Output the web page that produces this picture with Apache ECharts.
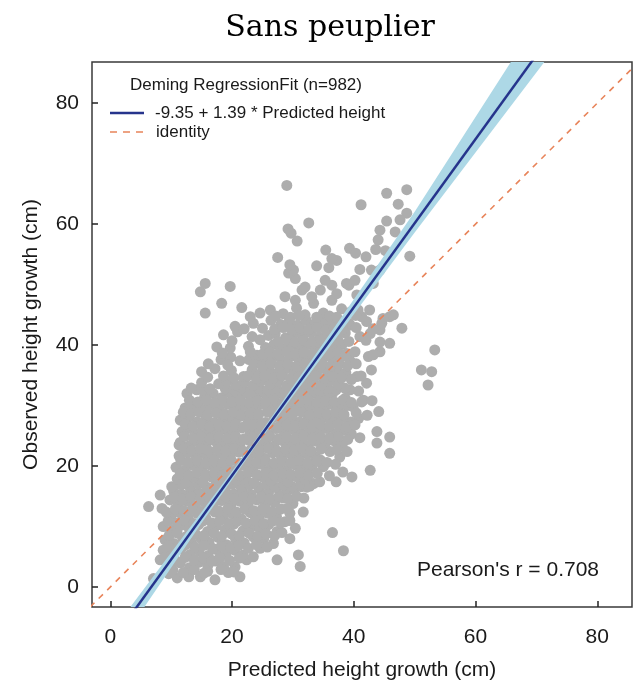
<!DOCTYPE html>
<html>
<head>
<meta charset="utf-8">
<script src="https://cdn.jsdelivr.net/npm/echarts@6/dist/echarts.min.js"></script>
<style>html,body{margin:0;padding:0;background:#fff;}#chart{width:641px;height:689px;}</style>
</head>
<body>
<div id="chart"></div>
<script>
// ---- data ----
const titleText = 'Sans peuplier';
const xTicks = [0, 20, 40, 60, 80];
const yTicks = [0, 20, 40, 60, 80];
const fitIntercept = -9.35;
const fitSlope = 1.39;
const pearsonR = 0.708;
const nObs = 982;

// confidence band edges (x, y)
const bandUpperX = [3.3, 15, 24, 35, 50, 65.8];
const bandUpperY = [-3.3, 12.4, 24.5, 40.3, 62.05, 86.8];
const bandLowerX = [5.6, 15, 24, 35, 50, 71.3];
const bandLowerY = [-3.3, 10.6, 23.5, 38.3, 58.6, 86.8];

// scatter points: predicted (x), observed (y)
const pointsLow = [
 [9.6,2.2],[11.0,1.5],[12.9,1.7],[14.8,1.7],[16.0,2.6],[17.2,1.2],[19.4,2.4],[21.3,1.7],[7.1,1.4],
 [8.2,4.5],[9.9,3.4],[11.5,4.0],[13.0,3.2],[14.5,4.1],[16.0,3.5],[17.3,4.3],[18.6,3.4],[20.5,3.3],[22.4,4.5],[27.4,4.5],[31.2,3.4],
 [8.7,6.1],[10.2,5.6],[11.6,6.3],[13.1,5.4],[14.6,6.0],[16.1,5.2],[17.5,6.2],[19.0,5.5],[20.4,6.1],[21.8,5.3],[23.5,5.0],[24.6,6.4],[30.9,5.3],
 [9.0,7.8],[10.4,7.2],[11.9,8.0],[13.3,7.3],[14.8,8.1],[16.2,7.4],[17.7,8.2],[19.1,7.0],[20.6,7.9],[22.0,7.3],[23.5,8.3],[25.2,8.0],[26.8,7.2],[29.5,8.0],[38.3,6.0],
 [8.7,10.0],[10.2,9.4],[11.6,10.2],[13.0,9.6],[14.5,10.3],[16.0,9.2],[17.4,10.1],[18.9,9.5],[20.3,10.4],[21.8,9.3],[23.2,10.0],[24.6,9.6],[26.0,10.3],[27.4,9.2],[28.7,10.8],[30.4,9.7],[36.5,9.0],
 [10.0,11.8],[11.4,12.3],[12.8,11.5],[14.3,12.2],[15.7,11.4],[17.2,12.4],[18.6,11.6],[20.1,12.1],[21.5,11.3],[23.0,12.3],[24.4,11.5],[25.9,12.2],[27.3,11.7],[29.5,12.2],[31.7,12.4],
 [6.3,13.3],[8.5,13.0],[9.8,14.4],[11.2,13.6],[12.6,14.2],[14.0,13.4],[15.5,14.1],[16.9,13.3],[18.3,14.3],[19.8,13.6],[21.2,14.2],[22.6,13.5],[24.1,14.4],[25.5,13.7],[27.0,14.0],[28.4,14.7],[30.0,13.8],
 [8.2,15.2],[10.4,15.9],[11.8,15.3],[13.2,16.1],[14.6,15.5],[16.0,16.3],[17.5,15.6],[18.9,16.2],[20.3,15.4],[21.7,16.0],[23.1,15.3],[24.5,16.2],[26.0,15.6],[27.4,16.4],[28.8,15.5],[30.2,16.1],[31.4,16.6],[32.3,16.5],[33.4,17.1]
];
const pointsLowFill = [
 [10.3,2.8],[12.0,2.4],[13.8,2.9],[15.4,2.3],[18.2,2.9],[20.3,2.5],
 [9.0,4.9],[10.7,4.4],[12.3,4.9],[13.8,4.5],[15.3,4.8],[16.7,4.3],[18.0,4.9],[19.6,4.4],[21.2,4.8],
 [9.5,6.8],[11.0,6.5],[12.4,7.0],[13.9,6.6],[15.4,6.9],[16.8,6.4],[18.3,6.9],[19.8,6.5],[21.1,6.9],[22.7,6.4],[24.0,7.0],[25.8,6.6],
 [9.7,8.6],[11.0,8.9],[12.6,8.4],[14.0,8.8],[15.4,8.5],[17.0,8.9],[18.3,8.4],[19.9,8.8],[21.2,8.5],[22.8,8.9],[24.2,8.4],[25.6,8.8],[27.0,8.5],[28.2,9.0],
 [9.5,10.9],[11.0,10.6],[12.3,11.0],[13.7,10.5],[15.2,10.9],[16.7,10.6],[18.0,11.0],[19.5,10.5],[20.9,10.9],[22.3,10.6],[23.8,11.0],[25.2,10.5],[26.7,10.9],[28.0,10.6],[29.5,11.0],
 [9.2,12.4],[10.7,12.9],[12.1,12.6],[13.5,12.9],[15.0,12.5],[16.4,12.9],[17.8,12.6],[19.3,12.9],[20.7,12.4],[22.1,12.9],[23.6,12.6],[25.0,12.9],[26.5,12.5],[28.0,12.9],[29.0,13.0],
 [10.5,14.9],[11.9,14.5],[13.3,14.9],[14.8,14.6],[16.2,15.0],[17.6,14.5],[19.0,14.9],[20.5,14.6],[21.9,15.0],[23.3,14.5],[24.8,14.9],[26.2,14.6],[27.7,15.0],[29.2,14.6],[30.6,15.0],[31.8,14.7],
 [11.7,16.9],[13.1,16.6],[14.5,17.0],[15.9,16.5],[17.3,16.9],[18.7,16.6],[20.1,17.0],[21.5,16.5],[22.9,16.9],[24.3,16.6],[25.7,17.0],[27.1,16.5],[28.5,16.9],[29.9,16.6],[31.3,17.0],[32.8,16.7],[34.4,17.4]
];
const pointsMid = [
 [10.1,16.6],[11.0,17.9],[12.4,17.3],[13.8,18.1],[15.2,17.4],[16.6,18.2],[18.0,17.5],[19.4,18.3],[20.8,17.6],[22.2,18.0],[23.6,17.3],[25.0,18.2],[26.4,17.5],[27.8,18.1],[29.2,17.4],[30.6,18.2],[32.0,17.8],[37.1,17.4],[39.7,18.2],
 [10.8,19.8],[12.2,19.3],[13.6,20.1],[15.0,19.5],[16.4,20.2],[17.8,19.4],[19.2,20.0],[20.6,19.3],[22.0,20.1],[23.4,19.6],[24.8,20.3],[26.2,19.4],[27.6,20.0],[29.0,19.3],[30.4,20.2],[31.8,19.6],[33.2,20.0],[35.0,19.9],[42.7,19.3],
 [11.3,21.7],[12.7,22.2],[14.1,21.4],[15.5,22.0],[16.9,21.3],[18.3,22.1],[19.7,21.6],[21.1,22.3],[22.5,21.5],[23.9,22.0],[25.3,21.3],[26.7,22.2],[28.1,21.6],[29.5,22.1],[30.9,21.4],[32.3,22.0],[33.7,21.5],[34.5,21.0],[36.1,22.4],[37.7,21.5],
 [11.5,23.9],[12.9,23.3],[14.3,24.1],[15.7,23.5],[17.1,24.2],[18.5,23.4],[19.9,24.0],[21.3,23.6],[22.7,24.3],[24.1,23.5],[25.5,24.0],[26.9,23.3],[28.3,24.2],[29.7,23.6],[31.1,24.0],[32.5,23.4],[33.9,24.1],[35.3,23.6],[36.7,24.2],[38.1,23.5],[43.8,23.8],[45.9,22.1],
 [11.8,25.7],[13.2,26.2],[14.6,25.4],[16.0,26.0],[17.4,25.3],[18.8,26.1],[20.2,25.6],[21.6,26.3],[23.0,25.5],[24.4,26.0],[25.8,25.3],[27.2,26.2],[28.6,25.6],[30.0,26.1],[31.4,25.4],[32.8,26.0],[34.2,25.5],[35.6,26.2],[37.0,25.4],[38.4,26.0],[39.6,25.3],[43.8,25.7],[45.9,24.8],
 [11.5,27.6],[12.9,28.1],[14.3,27.3],[15.7,27.9],[17.1,27.2],[18.5,28.0],[19.9,27.5],[21.3,28.2],[22.7,27.4],[24.1,27.9],[25.5,27.2],[26.9,28.1],[28.3,27.5],[29.7,28.0],[31.1,27.3],[32.5,27.9],[33.9,27.4],[35.3,28.1],[36.7,27.6],[38.1,28.0],[39.5,27.3],[40.8,27.9],
 [12.3,29.6],[13.7,30.1],[15.1,29.4],[16.5,30.0],[17.9,29.3],[19.3,30.2],[20.7,29.5],[22.1,30.0],[23.5,29.4],[24.9,30.2],[26.3,29.6],[27.7,30.0],[29.1,29.3],[30.5,30.1],[31.9,29.5],[33.3,30.0],[34.7,29.4],[36.1,30.2],[37.5,29.6],[38.9,30.0],[39.9,29.8],[41.6,30.9],[44.1,29.0],
 [12.6,32.0],[14.2,32.6],[15.5,31.4],[16.9,32.0],[18.3,31.3],[19.7,32.1],[21.1,31.5],[22.5,32.0],[23.9,31.3],[25.3,32.1],[26.7,31.6],[28.1,32.0],[29.5,31.4],[30.9,32.1],[32.3,31.5],[33.7,32.0],[35.1,31.3],[36.5,32.0],[38.6,31.2],[39.4,32.6],[41.3,30.6],[11.3,23.5]
];
const pointsMidFill = [
 [11.5,18.7],[12.9,18.5],[14.3,18.9],[15.7,18.6],[17.1,18.9],[18.5,18.5],[19.9,18.8],[21.3,18.5],[22.7,18.9],[24.1,18.6],[25.5,18.9],[26.9,18.5],[28.3,18.8],[29.7,18.6],[31.1,18.9],[32.6,18.5],[34.0,18.8],[36.0,18.4],[38.2,19.0],
 [11.6,20.9],[12.9,20.6],[14.3,20.9],[15.7,20.5],[17.1,20.8],[18.5,20.6],[19.9,20.9],[21.3,20.5],[22.7,20.8],[24.1,20.6],[25.5,20.9],[26.9,20.5],[28.3,20.8],[29.7,20.6],[31.1,20.9],[32.5,20.5],[34.0,20.8],[35.6,20.6],[37.0,20.3],
 [12.1,22.9],[13.4,22.6],[14.8,22.9],[16.2,22.5],[17.6,22.8],[19.0,22.6],[20.4,22.9],[21.8,22.5],[23.2,22.8],[24.6,22.6],[26.0,22.9],[27.4,22.5],[28.8,22.8],[30.2,22.6],[31.6,22.9],[33.0,22.5],[34.6,22.8],[37.2,22.7],[38.9,22.4],
 [12.2,24.9],[13.6,24.6],[15.0,24.9],[16.4,24.5],[17.8,24.8],[19.2,24.6],[20.6,24.9],[22.0,24.5],[23.4,24.8],[24.8,24.6],[26.2,24.9],[27.6,24.5],[29.0,24.8],[30.4,24.6],[31.8,24.9],[33.2,24.5],[34.6,24.8],[36.0,24.6],[37.5,24.9],[39.0,24.4],[41.0,24.7],
 [12.3,26.9],[13.6,26.6],[15.0,26.9],[16.4,26.5],[17.8,26.8],[19.2,26.6],[20.6,26.9],[22.0,26.5],[23.4,26.8],[24.8,26.6],[26.2,26.9],[27.6,26.5],[29.0,26.8],[30.4,26.6],[31.8,26.9],[33.2,26.5],[34.6,26.8],[36.0,26.6],[37.4,26.9],[38.8,26.5],[40.2,26.8],
 [12.0,28.9],[13.2,28.6],[14.6,28.9],[16.0,28.5],[17.4,28.8],[18.8,28.6],[20.2,28.9],[21.6,28.5],[23.0,28.8],[24.4,28.6],[25.8,28.9],[27.2,28.5],[28.6,28.8],[30.0,28.6],[31.4,28.9],[32.8,28.5],[34.2,28.8],[35.6,28.6],[37.0,28.9],[38.4,28.5],[40.4,28.8],[42.2,28.4],
 [13.0,30.9],[14.4,30.6],[15.8,30.9],[17.2,30.5],[18.6,30.8],[20.0,30.6],[21.4,30.9],[22.8,30.5],[24.2,30.8],[25.6,30.6],[27.0,30.9],[28.4,30.5],[29.8,30.8],[31.2,30.6],[32.6,30.9],[34.0,30.5],[35.4,30.8],[36.8,30.6],[38.2,30.9],[39.6,30.5],[43.0,30.8],
 [13.3,32.9],[15.1,32.6],[18.9,32.8],[20.3,32.6],[21.7,32.9],[23.1,32.5],[24.5,32.8],[25.9,32.6],[27.3,32.9],[28.7,32.5],[30.1,32.8],[31.5,32.6],[32.9,32.9],[34.3,32.5],[35.7,32.8],[37.1,32.6],[38.5,32.9],[40.8,32.4]
];
const pointsHigh = [
 [15.0,33.8],[16.4,32.8],[17.8,33.6],[19.2,34.0],[20.6,33.4],[22.0,33.9],[23.4,33.3],[24.8,34.1],[26.2,33.5],[27.6,34.0],[29.0,33.3],[30.4,34.1],[31.8,33.6],[33.2,34.0],[34.6,33.4],[36.0,34.0],[37.4,33.5],[40.5,34.8],[42.1,33.7],[52.2,33.4],
 [15.0,35.6],[17.2,36.1],[18.6,34.9],[19.9,35.8],[21.9,34.8],[23.3,35.9],[24.7,35.3],[26.1,36.0],[27.5,35.4],[28.9,36.1],[30.3,35.5],[31.7,36.0],[33.1,35.3],[34.5,36.1],[35.9,35.6],[37.3,36.0],[38.7,35.4],[42.9,35.9],[51.1,35.9],[52.8,35.6],
 [18.2,37.6],[19.8,38.0],[21.3,37.4],[22.8,37.6],[24.0,37.9],[25.4,37.3],[26.8,38.0],[28.2,37.4],[29.6,38.1],[31.0,37.5],[32.4,38.0],[33.8,37.3],[35.2,38.0],[36.6,37.5],[38.0,38.1],[39.4,37.4],[42.4,38.1],
 [17.5,39.7],[19.7,39.5],[22.7,39.8],[24.1,38.3],[25.5,39.6],[26.9,40.1],[28.3,39.4],[29.7,40.0],[31.1,39.3],[32.5,40.1],[33.9,39.5],[35.3,40.0],[36.7,39.4],[38.1,40.1],[44.3,38.9],[44.3,40.5],[45.9,40.3],[53.3,39.2],
 [18.6,41.7],[20.9,42.2],[23.3,41.4],[26.0,41.6],[27.1,41.9],[28.8,41.2],[30.2,42.0],[31.6,41.4],[33.0,42.1],[34.4,41.3],[35.8,41.9],[37.2,41.4],[38.6,42.0],[41.0,41.4],[42.7,41.9],[44.3,42.5],[47.9,42.8],
 [20.5,43.1],[23.5,43.6],[26.4,44.1],[28.0,43.4],[29.4,44.0],[30.8,43.3],[32.2,44.1],[33.6,43.5],[35.0,44.0],[36.4,43.3],[37.8,44.0],[39.2,43.6],[39.4,43.3],[42.1,43.9],[41.3,44.7],[44.6,43.6],[45.9,44.7],
 [15.6,45.3],[18.3,46.9],[21.6,46.2],[24.6,45.3],[26.3,45.8],[28.4,45.2],[30.6,46.1],[32.0,45.0],[33.4,46.9],[35.0,45.3],[36.4,47.4],[38.0,46.0],[39.5,45.5],[40.7,45.8],[42.6,45.8],[46.5,45.0],[44.8,44.4],
 [28.7,48.0],[30.4,47.4],[33.1,48.0],[34.5,49.1],[37.2,48.5],[40.5,48.3],[36.4,49.9],[39.2,49.9],[31.5,49.1],
 [14.8,48.8],[15.6,50.2],[19.7,49.7],[32.0,49.6],[35.3,50.7],[38.8,50.2],[40.2,50.7],[43.2,50.2],[30.4,51.0],
 [29.3,51.9],[30.1,52.4],[29.5,53.3],[33.9,53.1],[35.9,52.8],[37.2,54.0],[36.4,54.3],[35.4,55.7],[27.5,54.5],[41.0,52.5],[42.0,54.6],[42.9,52.4],[44.3,52.4],[43.6,55.8],[45.2,55.6],[39.3,56.0],[40.3,55.2],[49.2,54.7],[44.0,57.4],
 [29.0,66.4],[32.6,60.2],[29.2,59.2],[29.7,58.5],[30.7,57.2],[41.2,63.2],[45.4,65.1],[48.7,65.7],[47.3,63.3],[48.7,61.8],[45.4,60.5],[47.6,60.7],[44.3,59.0],[46.8,58.7]
];
const pointsHighFill = [
 [16.0,34.7],[20.3,34.6],[22.6,34.9],[24.0,34.5],[25.4,34.8],[26.8,34.6],[28.2,34.9],[29.6,34.5],[31.0,34.8],[32.4,34.6],[33.8,34.9],[35.2,34.5],[36.6,34.8],[38.0,34.6],[39.6,34.3],[41.2,34.9],
 [16.1,36.9],[19.3,36.7],[23.6,36.8],[25.0,36.5],[26.4,36.9],[27.8,36.6],[29.2,36.8],[30.6,36.5],[32.0,36.9],[33.4,36.6],[34.8,36.8],[36.2,36.5],[37.6,36.9],[39.0,36.6],[40.4,36.9],
 [18.4,38.7],[23.0,38.9],[25.0,38.5],[26.2,38.8],[27.6,38.6],[29.0,38.9],[30.4,38.5],[31.8,38.8],[33.2,38.6],[34.6,38.9],[36.0,38.5],[37.4,38.8],[38.8,38.6],[40.2,38.9],[43.2,38.4],
 [20.0,40.7],[24.6,40.9],[27.6,40.6],[29.0,40.9],[30.4,40.5],[31.8,40.8],[33.2,40.6],[34.6,40.9],[36.0,40.5],[37.4,40.8],[39.2,40.6],[42.0,40.8],
 [22.0,42.7],[25.0,42.8],[27.0,42.6],[28.4,42.9],[29.8,42.5],[31.2,42.8],[32.6,42.6],[34.0,42.9],[35.4,42.5],[36.8,42.8],[38.2,42.6],[40.4,42.9],[43.2,42.7],
 [23.0,44.7],[27.2,44.8],[29.6,44.6],[31.0,44.9],[33.9,44.6],[36.0,44.8],[37.2,44.6],[40.3,44.9]
];

// ---- chart ----
const FONT = '"Liberation Sans", Arial, sans-serif';
const X_MIN = -3, X_MAX = 85.7, Y_MIN = -3.3, Y_MAX = 86.8;
const points = pointsLow.concat(pointsLowFill, pointsMid, pointsMidFill, pointsHigh, pointsHighFill);
const fitLine = [[X_MIN, fitIntercept + fitSlope * X_MIN], [X_MAX, fitIntercept + fitSlope * X_MAX]];
const identityLine = [[Y_MIN, Y_MIN], [Y_MAX, Y_MAX]];
const fitName = fitIntercept.toFixed(2) + ' + ' + fitSlope.toFixed(2) + ' * Predicted height';
const FIT_COLOR = '#26348C', ID_COLOR = '#E8845A';

const chart = echarts.init(document.getElementById('chart'), null, {renderer: 'canvas'});
chart.setOption({
  animation: false,
  backgroundColor: '#fff',
  grid: {left: 92, right: 9, top: 62, bottom: 82, show: true, borderColor: '#3a3a3a', borderWidth: 1.5, outerBoundsMode: 'none'},
  xAxis: {
    type: 'value', min: X_MIN, max: X_MAX,
    name: 'Predicted height growth (cm)', nameLocation: 'middle', nameGap: 53,
    nameTextStyle: {fontFamily: FONT, fontSize: 21, color: '#1a1a1a'},
    axisLine: {show: false, onZero: false},
    axisTick: {show: true, inside: true, length: 6, lineStyle: {color: '#222', width: 1.5}, customValues: xTicks},
    axisLabel: {fontFamily: FONT, fontSize: 21, color: '#1a1a1a', margin: 20, customValues: xTicks},
    splitLine: {show: false}
  },
  yAxis: {
    type: 'value', min: Y_MIN, max: Y_MAX,
    name: 'Observed height growth (cm)', nameLocation: 'middle', nameGap: 50, nameRotate: 90,
    nameTextStyle: {fontFamily: FONT, fontSize: 21, color: '#1a1a1a'},
    axisLine: {show: false, onZero: false},
    axisTick: {show: true, inside: true, length: 6, lineStyle: {color: '#222', width: 1.5}, customValues: yTicks},
    axisLabel: {fontFamily: FONT, fontSize: 21, color: '#1a1a1a', margin: 13, customValues: yTicks},
    splitLine: {show: false}
  },
  graphic: [
    {type: 'text', x: 330, y: 28, style: {text: titleText, font: '30px "DejaVu Serif", serif', fill: '#000', textAlign: 'center', textVerticalAlign: 'middle'}},
    {type: 'text', left: 130, top: 77, style: {text: 'Deming RegressionFit (n=' + nObs + ')', font: '17px ' + FONT, fill: '#1a1a1a'}},
    {type: 'line', shape: {x1: 110, y1: 113, x2: 144, y2: 113}, style: {stroke: FIT_COLOR, lineWidth: 2.5}},
    {type: 'text', x: 155, y: 113, style: {text: fitName, font: '17px ' + FONT, fill: '#1a1a1a', textVerticalAlign: 'middle'}},
    {type: 'line', shape: {x1: 110, y1: 132, x2: 144, y2: 132}, style: {stroke: ID_COLOR, lineWidth: 1.6, lineDash: [7, 6]}},
    {type: 'text', x: 156, y: 132, style: {text: 'identity', font: '17px ' + FONT, fill: '#1a1a1a', textVerticalAlign: 'middle'}},
    {type: 'text', x: 599, y: 570, style: {text: "Pearson's r = " + pearsonR.toFixed(3), font: '21px ' + FONT, fill: '#1a1a1a', textAlign: 'right', textVerticalAlign: 'middle'}}
  ],
  series: [
    {
      type: 'scatter', name: 'points', data: points, symbol: 'circle', symbolSize: 11,
      itemStyle: {color: '#ADADAD', opacity: 1}, z: 2, silent: true
    },
    {
      type: 'custom', name: 'band', z: 3, silent: true, data: [[0, 0]],
      renderItem: function (params, api) {
        const pts = [];
        for (let i = 0; i < bandUpperX.length; i++) pts.push(api.coord([bandUpperX[i], bandUpperY[i]]));
        for (let i = bandLowerX.length - 1; i >= 0; i--) pts.push(api.coord([bandLowerX[i], bandLowerY[i]]));
        return {type: 'polygon', shape: {points: pts}, style: {fill: '#ADD8E6'}};
      }
    },
    {
      type: 'line', name: 'identity', data: identityLine, symbol: 'none', z: 4,
      lineStyle: {color: ID_COLOR, width: 1.6, type: [6, 6]}
    },
    {
      type: 'line', name: fitName, data: fitLine, symbol: 'none', z: 5,
      lineStyle: {color: FIT_COLOR, width: 2.5}
    }
  ]
});
</script>
</body>
</html>
